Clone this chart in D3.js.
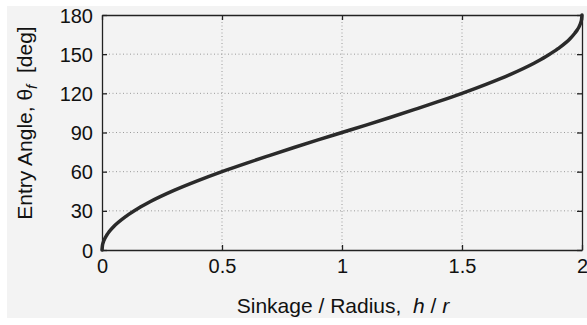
<!DOCTYPE html>
<html>
<head>
<meta charset="utf-8">
<script src="https://cdn.jsdelivr.net/npm/d3@7"></script>
<style>
  body { margin: 0; background: #fff; }
  svg { display: block; font-family: "Liberation Sans", Arial, sans-serif; }
</style>
</head>
<body>
<div id="chart"></div>
<script>
// values
var ratio = [0, 0.002, 0.005, 0.01, 0.02, 0.03, 0.05, 0.1, 0.15, 0.2, 0.3, 0.4, 0.5, 0.6, 0.7, 0.8, 0.9, 1,
             1.1, 1.2, 1.3, 1.4, 1.5, 1.6, 1.7, 1.8, 1.85, 1.9, 1.95, 1.97, 1.98, 1.99, 1.995, 1.998, 2];
var angle = [0, 3.6, 5.7, 8.1, 11.5, 14.1, 18.2, 25.8, 31.8, 36.9, 45.6, 53.1, 60, 66.4, 72.5, 78.5, 84.3, 90,
             95.7, 101.5, 107.5, 113.6, 120, 126.9, 134.4, 143.1, 148.2, 154.2, 161.8, 166, 168.5, 171.9, 174.3, 176.4, 180];
var xTicks = [0, 0.5, 1, 1.5, 2];
var xTickLabels = ["0", "0.5", "1", "1.5", "2"];
var yTicks = [0, 30, 60, 90, 120, 150, 180];

var svgWidth = 587, svgHeight = 325;
var margin = {top: 15, left: 102};
var width = 582 - margin.left;
var height = 250 - margin.top;

var svg = d3.select("#chart").append("svg")
    .attr("width", svgWidth)
    .attr("height", svgHeight);

svg.append("rect")
    .attr("x", 7).attr("y", 6)
    .attr("width", svgWidth - 7).attr("height", 312)
    .attr("fill", "#f3f3f3");

var g = svg.append("g")
    .attr("transform", `translate(${margin.left}, ${margin.top})`);

var x = d3.scaleLinear().domain([0, 2]).range([0, width]);
var y = d3.scaleLinear().domain([0, 180]).range([height, 0]);

// dotted grid
g.selectAll(".vgrid")
    .data(xTicks.slice(1, -1))
    .enter().append("line")
    .attr("x1", d => x(d)).attr("x2", d => x(d))
    .attr("y1", 0).attr("y2", height)
    .attr("stroke", "#9a9a9a")
    .attr("stroke-width", 1)
    .attr("stroke-dasharray", "1,2.5");

g.selectAll(".hgrid")
    .data(yTicks.slice(1, -1))
    .enter().append("line")
    .attr("x1", 0).attr("x2", width)
    .attr("y1", d => y(d)).attr("y2", d => y(d))
    .attr("stroke", "#9a9a9a")
    .attr("stroke-width", 1)
    .attr("stroke-dasharray", "1,2.5");

// axes with inward ticks, mirrored on top / right
var tickLen = 5;
var bottomAxis = d3.axisBottom(x).tickValues(xTicks).tickFormat((d, i) => xTickLabels[i])
    .tickSizeInner(-tickLen).tickSizeOuter(0).tickPadding(11);
var topAxis = d3.axisTop(x).tickValues(xTicks).tickFormat("").tickSizeInner(-tickLen).tickSizeOuter(0);
var leftAxis = d3.axisLeft(y).tickValues(yTicks).tickSizeInner(-tickLen).tickSizeOuter(0).tickPadding(9);
var rightAxis = d3.axisRight(y).tickValues(yTicks).tickFormat("").tickSizeInner(-tickLen).tickSizeOuter(0);

function styleAxis(sel) {
    sel.selectAll("path").attr("stroke", "#222").attr("stroke-width", 1.3);
    sel.selectAll("line").attr("stroke", "#222").attr("stroke-width", 1.3);
    sel.selectAll("text").attr("fill", "#111").attr("font-size", "20px");
}

g.append("g").attr("transform", `translate(0, ${height})`).call(bottomAxis).call(styleAxis)
    .selectAll("text").attr("dy", "0.6em");
g.append("g").call(topAxis).call(styleAxis);
g.append("g").call(leftAxis).call(styleAxis)
    .selectAll("text").attr("dy", "0.35em");
g.append("g").attr("transform", `translate(${width}, 0)`).call(rightAxis).call(styleAxis);

// curve
var pts = ratio.map((r, i) => [r, angle[i]]);
var line = d3.line()
    .x(d => x(d[0]))
    .y(d => y(d[1]))
    .curve(d3.curveMonotoneX);

g.append("path")
    .datum(pts)
    .attr("d", line)
    .attr("fill", "none")
    .attr("stroke", "#2a2a2a")
    .attr("stroke-width", 3.5)
    .attr("stroke-linecap", "round");

// axis titles
var xt = svg.append("text")
    .attr("x", 343).attr("y", 313)
    .attr("text-anchor", "middle")
    .attr("font-size", "21px")
    .attr("fill", "#111");
xt.append("tspan").text("Sinkage / Radius,\u00a0\u00a0");
xt.append("tspan").attr("font-style", "italic").text("h");
xt.append("tspan").text(" / ");
xt.append("tspan").attr("font-style", "italic").text("r");

var yt = svg.append("text")
    .attr("transform", "translate(32, 123) rotate(-90)")
    .attr("text-anchor", "middle")
    .attr("font-size", "21px")
    .attr("fill", "#111");
yt.append("tspan").text("Entry Angle, \u03b8");
yt.append("tspan").attr("font-style", "italic").attr("font-size", "15px").attr("dy", "5").text("f");
yt.append("tspan").attr("dy", "-5").text("\u00a0\u00a0[deg]");
</script>
</body>
</html>
